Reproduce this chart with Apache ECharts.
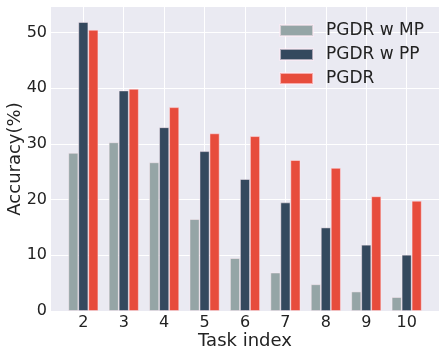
<!DOCTYPE html>
<html style="height: 100%">
<head>
  <meta charset="utf-8">
</head>
<body style="height: 100%; margin: 0">
  <div id="container" style="width: 446px; height: 357px"></div>
  <script type="text/javascript" src="https://fastly.jsdelivr.net/npm/echarts@6/dist/echarts.min.js"></script>
  <script type="text/javascript">
    // task indices on the x axis
    var tasks = [2, 3, 4, 5, 6, 7, 8, 9, 10];
    var seriesNames = ['PGDR w MP', 'PGDR w PP', 'PGDR'];
    var mpValues = [28.4, 30.3, 26.7, 16.5, 9.5, 6.9, 4.8, 3.5, 2.5];
    var ppValues = [51.9, 39.6, 33.0, 28.7, 23.7, 19.5, 15.0, 11.9, 10.1];
    var pgdrValues = [50.5, 39.9, 36.6, 31.9, 31.4, 27.1, 25.7, 20.6, 19.8];
    var yTicks = [0, 10, 20, 30, 40, 50];

    var colors = ['#95a5a6', '#34495e', '#e74c3c'];
    var font = 'DejaVu Sans';

    var dom = document.getElementById('container');
    var myChart = echarts.init(dom, null, { renderer: 'canvas' });

    function toPairs(vals) {
      return tasks.map(function (t, i) { return [t, vals[i]]; });
    }

    var allValues = [mpValues, ppValues, pgdrValues];

    var option = {
      animation: false,
      color: colors,
      textStyle: { fontFamily: font },
      grid: {
        left: 51,
        right: 7,
        top: 7,
        bottom: 46,
        outerBoundsMode: 'none',
        containLabel: false,
        show: true,
        backgroundColor: '#eaeaf2',
        borderWidth: 0
      },
      legend: {
        orient: 'vertical',
        right: 17,
        top: 17,
        align: 'left',
        icon: 'rect',
        itemWidth: 33,
        itemHeight: 11,
        itemGap: 7,
        textStyle: {
          fontFamily: font,
          fontSize: 17,
          color: '#222',
          padding: [0, 0, 0, 8]
        },
        data: seriesNames
      },
      xAxis: {
        type: 'value',
        min: 1.2,
        max: 10.8,
        name: 'Task index',
        nameLocation: 'middle',
        nameGap: 21,
        nameMoveOverlap: false,
        nameTextStyle: { fontFamily: font, fontSize: 18, color: '#222' },
        axisLine: { show: false },
        axisTick: { show: false, customValues: tasks },
        axisLabel: {
          customValues: tasks,
          fontFamily: font,
          fontSize: 16,
          color: '#222',
          margin: 4
        },
        splitLine: { show: true, lineStyle: { color: '#ffffff', width: 1 } }
      },
      yAxis: {
        type: 'value',
        min: 0,
        max: 54.6,
        interval: 10,
        name: 'Accuracy(%)',
        nameLocation: 'middle',
        nameGap: 27,
        nameMoveOverlap: false,
        nameTextStyle: { fontFamily: font, fontSize: 18, color: '#222' },
        axisLine: { show: false },
        axisTick: { show: false, customValues: yTicks },
        axisLabel: {
          customValues: yTicks,
          fontFamily: font,
          fontSize: 16,
          color: '#222',
          margin: 4
        },
        splitLine: { show: true, lineStyle: { color: '#ffffff', width: 1 } }
      },
      series: seriesNames.map(function (name, k) {
        return {
          name: name,
          type: 'bar',
          barWidth: 10,
          barGap: 0,
          itemStyle: {
            color: colors[k],
            borderColor: 'rgba(255,235,245,0.6)',
            borderWidth: 0.8
          },
          data: toPairs(allValues[k])
        };
      })
    };

    myChart.setOption(option);
    window.addEventListener('resize', myChart.resize);
  </script>
</body>
</html>
